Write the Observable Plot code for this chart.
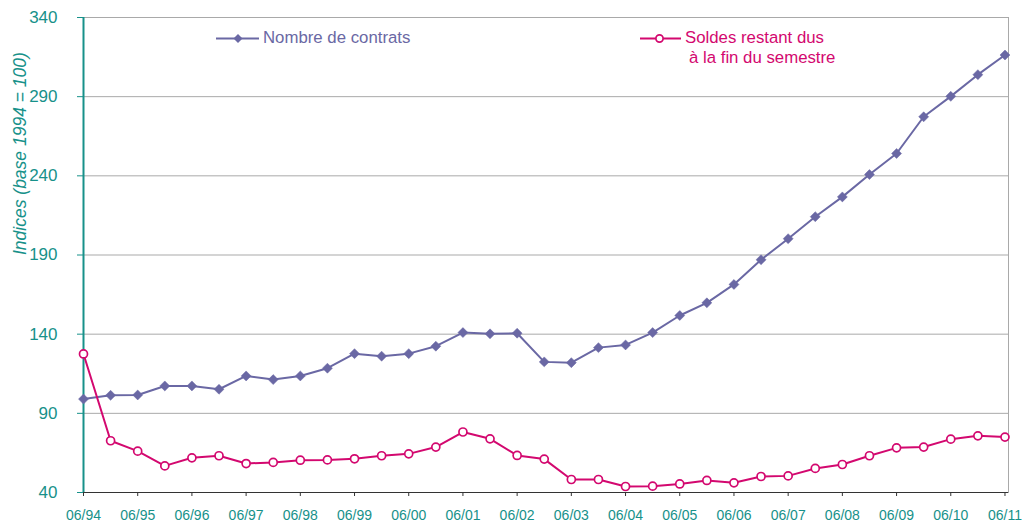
<!DOCTYPE html>
<html><head><meta charset="utf-8">
<script src="https://cdn.jsdelivr.net/npm/d3@7"></script>
<script src="https://cdn.jsdelivr.net/npm/@observablehq/plot@0.6"></script>
<style>
body{margin:0;background:#fff;}
#chart{position:relative;width:1025px;height:522px;font-family:"Liberation Sans",Arial,sans-serif;}
.legend{position:absolute;display:flex;align-items:flex-start;font-size:16.8px;line-height:20px;}
.legend svg{display:block;}
</style></head><body><div id="chart"></div>
<script>
const periods = ["06/94","12/94","06/95","12/95","06/96","12/96","06/97","12/97","06/98","12/98",
  "06/99","12/99","06/00","12/00","06/01","12/01","06/02","12/02","06/03","12/03",
  "06/04","12/04","06/05","12/05","06/06","12/06","06/07","12/07","06/08","12/08",
  "06/09","12/09","06/10","12/10","06/11"];
const contrats = [99,101.4,101.6,107.3,107.3,105.2,113.6,111.3,113.6,118.5,
  127.7,126.1,127.7,132.4,141.0,140.2,140.6,122.5,122.0,131.5,
  133.2,141.0,151.8,159.8,171.4,187.0,200.3,214.2,226.7,240.8,
  254.1,277.3,290.2,303.9,316.3];
const soldes = [127.5,72.7,66.1,56.8,61.9,63.2,58.3,59.0,60.4,60.6,
  61.3,63.2,64.4,68.7,78.2,73.9,63.4,61.1,48.2,48.2,
  43.8,44.0,45.4,47.6,46.1,50.1,50.5,55.2,57.7,63.2,
  68.2,68.7,73.7,75.8,75.0];
const yTicks = [40,90,140,190,240,290,340];
const xTickLabels = ["06/94","06/95","06/96","06/97","06/98","06/99","06/00","06/01","06/02",
  "06/03","06/04","06/05","06/06","06/07","06/08","06/09","06/10","06/11"];
const seriesNames = ["Nombre de contrats", "Soldes restant dus", "à la fin du semestre"];
const yLabel = "Indices (base 1994 = 100)";

const teal = "#17918a", purple = "#6a68a4", pink = "#d3086f", grid = "#a9a9a9";
const data = periods.map((p, i) => ({i, p, contrats: contrats[i], soldes: soldes[i]}));
const xTicks = xTickLabels.map(l => periods.indexOf(l));
const xMax = periods.length - 1 + 0.13;

const plot = Plot.plot({
  width: 1025, height: 522,
  marginLeft: 83, marginRight: 17, marginTop: 17, marginBottom: 30,
  style: {fontFamily: "Liberation Sans, Arial, sans-serif", background: "#fff", overflow: "visible"},
  x: {domain: [0, xMax]},
  y: {domain: [yTicks[0], yTicks[yTicks.length - 1]]},
  marks: [
    Plot.gridY(yTicks, {stroke: grid, strokeOpacity: 1}),
    Plot.frame({stroke: grid}),
    Plot.ruleY([yTicks[0]], {stroke: "#333", strokeWidth: 1.2}),
    Plot.ruleX([0], {stroke: teal, strokeWidth: 2}),
    Plot.axisX(xTicks, {tickFormat: i => periods[i], tickSize: 4, tickPadding: 14, fontSize: 14,
      stroke: "#333", fill: teal, label: null}),
    Plot.axisY(yTicks, {tickSize: 6, tickPadding: 20, fontSize: 17, stroke: teal, fill: teal, label: null}),
    Plot.text([yLabel], {frameAnchor: "left", rotate: -90, dx: -63, fontSize: 17.5, fontStyle: "italic",
      fill: teal, text: d => d}),
    Plot.line(data, {x: "i", y: "contrats", stroke: purple, strokeWidth: 2}),
    Plot.dot(data, {x: "i", y: "contrats", symbol: "diamond2", r: 4.5, fill: purple, stroke: purple, strokeWidth: 0.5}),
    Plot.line(data, {x: "i", y: "soldes", stroke: pink, strokeWidth: 2}),
    Plot.dot(data, {x: "i", y: "soldes", r: 4, stroke: pink, fill: "white", strokeWidth: 1.7})
  ]
});
const chart = document.getElementById("chart");
chart.appendChild(plot);

function legend(left, top, color, symbolSvg, lines) {
  const div = document.createElement("div");
  div.className = "legend";
  div.style.left = left + "px";
  div.style.top = top + "px";
  div.style.color = color;
  div.innerHTML = symbolSvg + `<div style="margin-left:4px">${lines.map((l, k) =>
    `<div style="padding-left:${k ? 4 : 0}px">${l}</div>`).join("")}</div>`;
  chart.appendChild(div);
}
legend(216, 28, purple,
  `<svg width="43" height="20"><line x1="0" x2="43" y1="10.5" y2="10.5" stroke="${purple}" stroke-width="2"/>
   <path d="M22,6 L26.5,10.5 L22,15 L17.5,10.5Z" fill="${purple}"/></svg>`,
  [seriesNames[0]]);
legend(640, 28, pink,
  `<svg width="41" height="20"><line x1="0" x2="41" y1="10.5" y2="10.5" stroke="${pink}" stroke-width="2"/>
   <circle cx="19.5" cy="10.5" r="3.6" fill="white" stroke="${pink}" stroke-width="1.7"/></svg>`,
  [seriesNames[1], seriesNames[2]]);
</script></body></html>
